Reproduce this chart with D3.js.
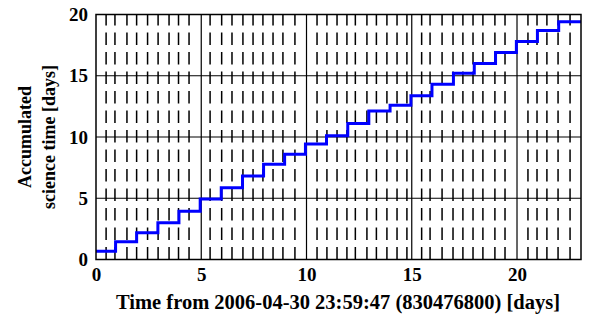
<!DOCTYPE html>
<html>
<head>
<meta charset="utf-8">
<script src="https://cdn.jsdelivr.net/npm/d3@7"></script>
<style>
  body { margin: 0; background: #fff; }
  svg { display: block; font-family: "Liberation Serif", "DejaVu Serif", serif; font-weight: bold; }
</style>
</head>
<body>
<svg width="589" height="327"></svg>
<script>
// step times (days) where the accumulated science time jumps
var stepTimes = [0.93, 1.93, 2.94, 3.94, 4.95, 5.95, 6.96, 7.96, 8.96, 9.95, 10.95,
  11.96, 12.96, 13.97, 14.96, 15.96, 16.98, 17.97, 18.98, 19.97, 20.97, 21.98];
// accumulated science time (days) on each interval
var levels = [0.67, 1.45, 2.19, 3.0, 3.93, 4.94, 5.86, 6.82, 7.77, 8.6, 9.43, 10.1,
  11.1, 12.12, 12.6, 13.37, 14.3, 15.2, 16.0, 16.9, 17.8, 18.7, 19.4];
// dashed vertical markers (days)
var markers = [0.48, 0.90, 1.47, 1.93, 2.45, 2.95, 3.47, 3.92, 4.42, 5.42, 5.97, 6.46,
  6.98, 7.46, 7.93, 8.41, 8.88, 9.45, 10.5, 10.97, 11.45, 11.92, 12.32, 12.87, 13.32,
  13.82, 14.3, 14.77, 15.47, 15.87, 16.44, 16.96, 17.43, 17.91, 18.38, 18.95,
  19.43, 20.52, 20.95, 21.42, 21.95, 22.52];
var xTicks = [0, 5, 10, 15, 20];
var yTicks = [0, 5, 10, 15, 20];
var xEnd = 23.04;

var svg = d3.select("svg");

var x = d3.scaleLinear().domain([0, xEnd]).range([96, 581]);
var y = d3.scaleLinear().domain([0, 20]).range([259.5, 14.5]);

// dashed markers
svg.append("g").selectAll("line")
  .data(markers)
  .enter().append("line")
  .attr("x1", function(d) { return x(d); })
  .attr("x2", function(d) { return x(d); })
  .attr("y1", y(0))
  .attr("y2", y(20))
  .attr("stroke", "#000")
  .attr("stroke-width", 1.5)
  .attr("stroke-dasharray", "12.5,7");

// grid
svg.append("g").selectAll("line")
  .data(xTicks.slice(1))
  .enter().append("line")
  .attr("x1", function(d) { return x(d); })
  .attr("x2", function(d) { return x(d); })
  .attr("y1", y(0)).attr("y2", y(20))
  .attr("stroke", "#000").attr("stroke-width", 1.2);

svg.append("g").selectAll("line")
  .data(yTicks.slice(1, -1))
  .enter().append("line")
  .attr("x1", x(0)).attr("x2", x(xEnd))
  .attr("y1", function(d) { return y(d); })
  .attr("y2", function(d) { return y(d); })
  .attr("stroke", "#000").attr("stroke-width", 1.2);

// step line
var pts = [[0, levels[0]]];
stepTimes.forEach(function(t, i) {
  pts.push([t, levels[i]]);
  pts.push([t, levels[i + 1]]);
});
pts.push([xEnd, levels[levels.length - 1]]);

svg.append("path")
  .datum(pts)
  .attr("fill", "none")
  .attr("stroke", "#0000ff")
  .attr("stroke-width", 3)
  .attr("d", d3.line().x(function(d) { return x(d[0]); }).y(function(d) { return y(d[1]); }));

// frame
svg.append("rect")
  .attr("x", x(0)).attr("y", y(20))
  .attr("width", x(xEnd) - x(0)).attr("height", y(0) - y(20))
  .attr("fill", "none").attr("stroke", "#000").attr("stroke-width", 1.5);

// axes
var xAxis = svg.append("g")
  .attr("transform", "translate(0," + y(0) + ")")
  .call(d3.axisBottom(x).tickValues(xTicks).tickSize(0).tickPadding(8));
var yAxis = svg.append("g")
  .attr("transform", "translate(" + x(0) + ",0)")
  .call(d3.axisLeft(y).tickValues(yTicks).tickSize(0).tickPadding(8));
[xAxis, yAxis].forEach(function(g) {
  g.select(".domain").remove();
  g.selectAll("text")
    .attr("fill", "#000")
    .style("font-family", "Liberation Serif")
    .style("font-weight", "bold")
    .style("font-size", "19px");
});

svg.append("text")
  .attr("x", 338).attr("y", 309)
  .attr("text-anchor", "middle")
  .style("font-size", "20.5px")
  .text("Time from 2006-04-30 23:59:47 (830476800) [days]");

svg.append("text")
  .attr("transform", "translate(31,137) rotate(-90)")
  .attr("text-anchor", "middle")
  .style("font-size", "18px")
  .text("Accumulated");
svg.append("text")
  .attr("transform", "translate(55,137) rotate(-90)")
  .attr("text-anchor", "middle")
  .style("font-size", "18px")
  .text("science time [days]");
</script>
</body>
</html>
